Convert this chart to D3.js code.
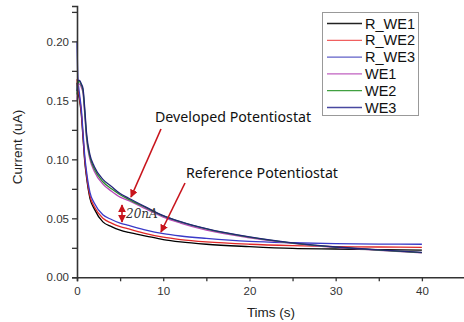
<!DOCTYPE html>
<html>
<head>
<meta charset="utf-8">
<script src="https://cdn.jsdelivr.net/npm/d3@7"></script>
<style>
  body { margin: 0; background: #fff; }
  svg { display: block; }
  .tick text { font-family: "Liberation Sans", Arial, sans-serif; fill: #333; }
</style>
</head>
<body>
<div id="chart"></div>
<script>
// time axis (s)
var times = [0, 0.1, 0.3, 0.5, 0.7, 0.9, 1.1, 1.5, 2, 3, 4, 5, 6, 8, 10, 12, 15, 20, 25, 30, 35, 40];

// reference potentiostat (uA)
var rWe1 = [0.165, 0.158, 0.150, 0.138, 0.118, 0.098, 0.085, 0.067, 0.058, 0.047, 0.043, 0.040, 0.038, 0.035, 0.032, 0.030, 0.028, 0.026, 0.0245, 0.024, 0.0235, 0.023];
var rWe2 = [0.168, 0.160, 0.152, 0.140, 0.120, 0.100, 0.087, 0.069, 0.060, 0.050, 0.046, 0.043, 0.041, 0.037, 0.034, 0.032, 0.030, 0.028, 0.0268, 0.026, 0.0257, 0.0254];
var rWe3 = [0.200, 0.170, 0.155, 0.143, 0.123, 0.103, 0.090, 0.072, 0.063, 0.053, 0.049, 0.046, 0.044, 0.040, 0.037, 0.035, 0.033, 0.0305, 0.0293, 0.0285, 0.0282, 0.028];

// developed potentiostat (uA)
var we1 = [0.150, 0.162, 0.164, 0.161, 0.156, 0.138, 0.118, 0.100, 0.090, 0.079, 0.073, 0.068, 0.065, 0.058, 0.051, 0.046, 0.040, 0.0335, 0.0288, 0.0253, 0.0228, 0.0208];
var we2 = [0.155, 0.165, 0.166, 0.163, 0.158, 0.140, 0.120, 0.102, 0.092, 0.081, 0.075, 0.070, 0.066, 0.059, 0.052, 0.047, 0.041, 0.034, 0.029, 0.0255, 0.023, 0.021];
var we3 = [0.158, 0.167, 0.167, 0.164, 0.160, 0.143, 0.123, 0.104, 0.094, 0.083, 0.077, 0.071, 0.067, 0.0595, 0.0523, 0.0472, 0.0412, 0.0342, 0.0292, 0.0257, 0.0232, 0.0212];

var seriesNames = ["R_WE1", "R_WE2", "R_WE3", "WE1", "WE2", "WE3"];
var seriesValues = [rWe1, rWe2, rWe3, we1, we2, we3];
var seriesColors = ["#000000", "#e02828", "#3a3ac8", "#b848b8", "#2a8a2a", "#23237a"];
var legendColors = ["#222222", "#f06060", "#6060c8", "#c060c0", "#40a040", "#4848a0"];

var xTicks = [0, 10, 20, 30, 40];
var yTicks = [0, 0.05, 0.10, 0.15, 0.20];

var width = 464, height = 322;

var svg = d3.select("#chart").append("svg")
  .attr("width", width)
  .attr("height", height);

var x = d3.scaleLinear().domain([0, 45]).range([77, 465]);
var y = d3.scaleLinear().domain([0, 0.23]).range([277.3, 6]);

var line = d3.line()
  .x(function(d, i) { return x(times[i]); })
  .y(function(d) { return y(d); })
  .curve(d3.curveMonotoneX);

// curves: reference first, developed on top
seriesValues.forEach(function(vals, k) {
  svg.append("path")
    .datum(vals)
    .attr("d", line)
    .attr("fill", "none")
    .attr("stroke", seriesColors[k])
    .attr("stroke-width", 1.3);
});

// axes
var xAxis = d3.axisBottom(x)
  .tickValues(d3.range(0, 45, 5))
  .tickSize(4)
  .tickFormat(function(d) { return xTicks.indexOf(d) >= 0 ? d : ""; });

var gx = svg.append("g")
  .attr("transform", "translate(0," + y(0) + ")")
  .call(xAxis);
gx.select(".domain").attr("stroke", "#333").attr("stroke-width", 1.6);
gx.selectAll(".tick line").attr("stroke", "#333").attr("stroke-width", 1.3);
gx.selectAll(".tick text").attr("font-size", 11.5).attr("dy", "0.9em");

var yAxis = d3.axisLeft(y)
  .tickValues(d3.range(0, 0.24, 0.025))
  .tickSize(5)
  .tickFormat(function(d) {
    var m = yTicks.some(function(t) { return Math.abs(t - d) < 1e-6; });
    return m ? d3.format(".2f")(d) : "";
  });

var gy = svg.append("g")
  .attr("transform", "translate(" + x(0) + ",0)")
  .call(yAxis);
gy.select(".domain").attr("stroke", "#333").attr("stroke-width", 1.6);
gy.selectAll(".tick line").attr("stroke", "#333").attr("stroke-width", 1.3);
gy.selectAll(".tick text").attr("font-size", 11.5).attr("x", -8);

// axis titles
svg.append("text")
  .attr("x", 271).attr("y", 317)
  .attr("text-anchor", "middle")
  .attr("font-family", "Liberation Sans, Arial, sans-serif")
  .attr("font-size", 13.5)
  .attr("fill", "#222")
  .text("Tims (s)");

svg.append("text")
  .attr("transform", "translate(22,147) rotate(-90)")
  .attr("text-anchor", "middle")
  .attr("font-family", "Liberation Sans, Arial, sans-serif")
  .attr("font-size", 13.5)
  .attr("fill", "#222")
  .text("Current (uA)");

// legend
var legend = svg.append("g");
legend.append("rect")
  .attr("x", 322.5).attr("y", 12.5)
  .attr("width", 96).attr("height", 103)
  .attr("fill", "#fff")
  .attr("stroke", "#999")
  .attr("stroke-width", 1);

seriesNames.forEach(function(name, i) {
  var ly = 23.5 + i * 16.8;
  legend.append("line")
    .attr("x1", 327).attr("x2", 362)
    .attr("y1", ly).attr("y2", ly)
    .attr("stroke", legendColors[i])
    .attr("stroke-width", 1.3);
  legend.append("text")
    .attr("x", 365).attr("y", ly + 5)
    .attr("font-family", "Liberation Sans, Arial, sans-serif")
    .attr("font-size", 14.5)
    .attr("fill", "#111")
    .text(name);
});

// annotations
var red = "#c8141c";
var defs = svg.append("defs");
defs.append("marker")
  .attr("id", "head")
  .attr("viewBox", "0 0 10 10")
  .attr("refX", 9).attr("refY", 5)
  .attr("markerWidth", 5).attr("markerHeight", 5)
  .attr("orient", "auto-start-reverse")
  .append("path")
  .attr("d", "M0,0L10,5L0,10z")
  .attr("fill", red);

svg.append("text")
  .attr("x", 155).attr("y", 122)
  .attr("font-family", "Noto Sans, sans-serif")
  .attr("font-size", 14.2)
  .attr("fill", "#111")
  .text("Developed Potentiostat");

svg.append("line")
  .attr("x1", 161).attr("y1", 129)
  .attr("x2", 131).attr("y2", 197)
  .attr("stroke", red).attr("stroke-width", 1.6)
  .attr("marker-end", "url(#head)");

svg.append("text")
  .attr("x", 186).attr("y", 178)
  .attr("font-family", "Noto Sans, sans-serif")
  .attr("font-size", 14.2)
  .attr("fill", "#111")
  .text("Reference Potentiostat");

svg.append("line")
  .attr("x1", 185).attr("y1", 183)
  .attr("x2", 161).attr("y2", 232)
  .attr("stroke", red).attr("stroke-width", 1.6)
  .attr("marker-end", "url(#head)");

svg.append("line")
  .attr("x1", 122).attr("y1", 205)
  .attr("x2", 122).attr("y2", 222)
  .attr("stroke", red).attr("stroke-width", 1.6)
  .attr("marker-start", "url(#head)")
  .attr("marker-end", "url(#head)");

svg.append("text")
  .attr("x", 126).attr("y", 218)
  .attr("font-family", "DejaVu Serif, serif")
  .attr("font-style", "italic")
  .attr("font-size", 12)
  .attr("fill", "#333")
  .text("20nA");
</script>
</body>
</html>
